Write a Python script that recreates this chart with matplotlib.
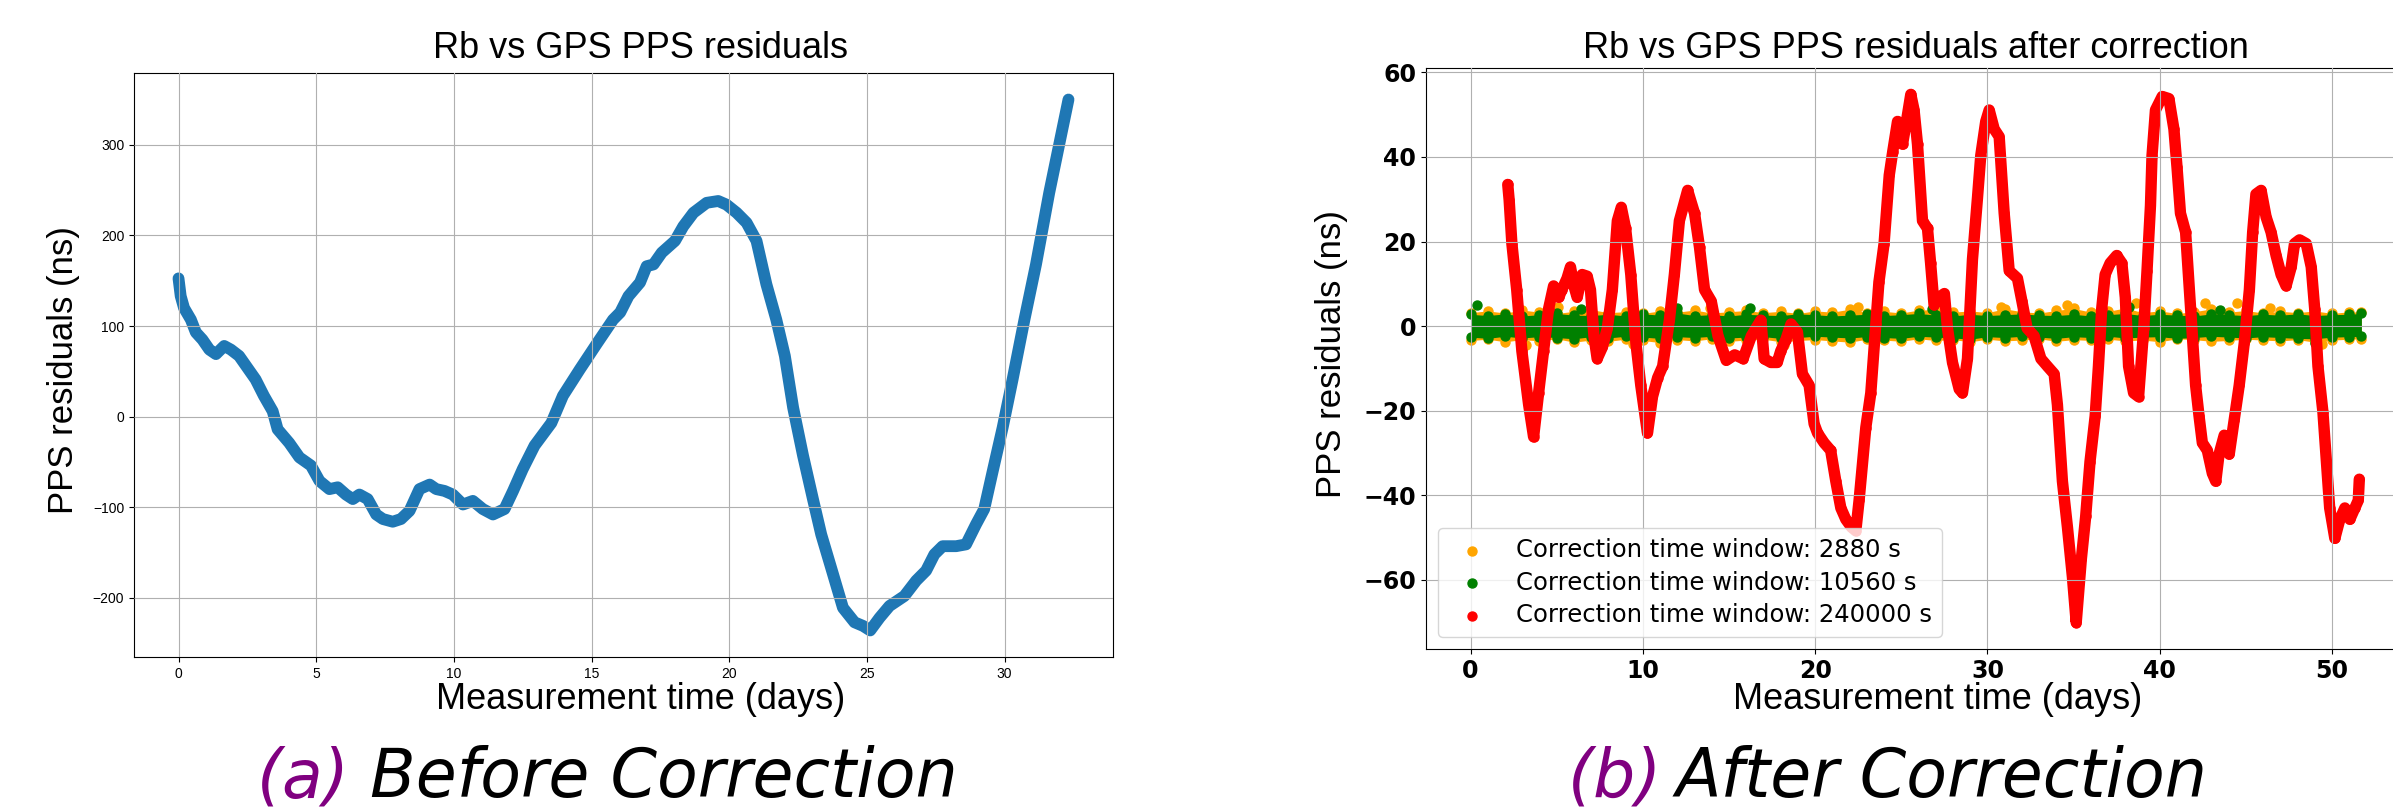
import matplotlib
matplotlib.use("Agg")
import matplotlib.pyplot as plt

# --- Données : résidus PPS Rb vs GPS avant correction ---
blue_days = [0, 0.08, 0.2, 0.45, 0.63, 0.87, 1.12, 1.36, 1.66, 1.9, 2.2, 2.5, 2.8, 3.1,
             3.42, 3.6, 4.02, 4.39, 4.81, 5.12, 5.48, 5.78, 6.08, 6.33, 6.57, 6.87, 7.18,
             7.42, 7.78, 8.08, 8.39, 8.75, 9.12, 9.36, 9.66, 9.96, 10.33, 10.69, 11.05,
             11.42, 11.84, 12.15, 12.5, 12.93, 13.54, 13.96, 14.57, 15.18, 15.78, 16.04,
             16.34, 16.76, 17.0, 17.25, 17.55, 18.03, 18.33, 18.7, 19.18, 19.6, 19.9,
             20.27, 20.63, 20.99, 21.35, 21.71, 22.02, 22.32, 22.68, 23.04, 23.34, 23.77,
             24.13, 24.55, 24.86, 25.12, 25.46, 25.82, 26.36, 26.79, 27.15, 27.45, 27.75,
             28.24, 28.6, 28.96, 29.26, 29.57, 29.93, 30.29, 30.72, 31.14, 31.62, 31.98, 32.32]
blue_vals = [152.6, 133, 120, 107, 93, 85, 74, 69, 78, 74, 67, 54, 41, 23,
             6, -14, -29, -45, -54, -71, -80, -78, -86, -91, -86, -91, -108,
             -113, -116, -113, -104, -80, -75, -80, -82, -86, -97, -93, -102,
             -108, -102, -82, -58, -32, -7, 23, 52, 80, 107, 115,
             133, 148, 166, 168, 181, 194, 210, 225, 236, 238, 234,
             225, 214, 194, 146, 107, 67, 10, -43, -91, -130, -174,
             -211, -227, -231, -236, -222, -209, -198, -181, -170, -152, -143,
             -143, -141, -119, -102, -60, -12, 41, 107, 168, 247, 300, 350]

# --- Données : après correction ---
band_days = [0, 1, 2, 3, 4, 5, 6, 7, 8, 9, 10, 11, 12, 13, 14, 15, 16, 17, 18, 19, 20,
             21, 22, 23, 24, 25, 26, 27, 28, 29, 30, 31, 32, 33, 34, 35, 36, 37, 38, 39,
             40, 41, 42, 43, 44, 45, 46, 47, 48, 49, 50, 51, 51.7]
orange_hi = [3.2, 3.6, 3.1, 3.8, 3.3, 3.0, 3.5, 3.9, 3.2, 3.4, 3.0, 3.6, 3.3, 3.8, 3.1,
             3.4, 3.7, 3.2, 3.5, 3.0, 3.6, 3.3, 4.0, 3.2, 3.5, 3.1, 3.8, 3.9, 3.3, 3.6,
             3.2, 4.1, 3.4, 3.1, 3.7, 4.2, 3.3, 3.5, 4.3, 3.2, 3.6, 3.0, 3.4, 4.1, 3.3,
             3.7, 3.1, 3.5, 3.2, 3.6, 3.0, 3.4, 3.3]
orange_lo = [-3.4, -3.1, -3.7, -3.2, -3.5, -3.0, -3.8, -3.3, -3.6, -3.1, -3.4, -3.9, -3.2,
             -3.5, -3.0, -3.6, -3.3, -3.1, -3.7, -3.4, -3.2, -3.5, -3.8, -3.1, -3.3, -3.6,
             -3.0, -3.4, -3.2, -3.7, -3.1, -3.5, -3.3, -3.0, -3.6, -3.2, -3.4, -3.1, -3.5,
             -3.3, -3.7, -3.0, -3.2, -3.6, -3.4, -3.1, -3.3, -3.5, -3.2, -3.8, -3.3, -3.1, -3.0]
green_hi = [2.8, 2.5, 2.9, 2.4, 2.7, 3.0, 2.6, 2.5, 2.8, 2.4, 2.9, 2.6, 3.1, 2.5, 2.7,
            2.4, 2.8, 2.6, 2.5, 2.9, 2.7, 2.4, 2.6, 2.8, 2.5, 2.7, 3.0, 2.6, 2.4, 2.8,
            2.5, 2.7, 2.9, 2.6, 2.5, 2.8, 2.4, 2.7, 3.0, 2.5, 2.8, 2.6, 2.4, 2.9, 2.7,
            2.5, 2.8, 2.6, 2.9, 2.5, 2.7, 2.8, 3.0]
green_lo = [-2.6, -2.9, -2.4, -2.8, -2.5, -2.7, -3.0, -2.5, -2.8, -2.4, -2.6, -2.9, -2.5,
            -2.7, -2.4, -2.8, -2.6, -2.5, -2.9, -2.7, -2.4, -2.6, -2.8, -2.5, -2.7, -2.9,
            -2.4, -2.6, -2.8, -3.1, -2.5, -2.7, -2.4, -2.6, -2.9, -2.5, -2.7, -2.4, -2.8,
            -2.6, -2.5, -2.9, -2.7, -2.4, -2.6, -2.8, -2.5, -2.7, -2.9, -3.0, -2.6, -2.5, -2.4]
orange_spike_days = [3.2, 5.1, 9.4, 13.9, 18.2, 22.5, 27.0, 30.8, 34.6, 38.6, 42.6, 44.5, 46.4, 49.4]
orange_spike_vals = [-4.5, 4.6, -4.2, 4.2, -4.4, 4.5, 4.1, 4.6, 5.1, 5.5, 5.4, 5.4, 4.4, -4.3]
green_spike_days = [0.35, 6.4, 12.0, 16.2, 26.8, 38.2, 43.5, 49.0]
green_spike_vals = [5.1, 4.0, 4.2, 4.4, 4.1, 4.5, 3.8, -4.0]

red_days = [2.16, 2.24, 2.4, 2.68, 2.98, 3.37, 3.66, 3.95, 4.24, 4.53, 4.82, 5.12, 5.3, 5.6,
            5.8, 6.0, 6.19, 6.48, 6.77, 6.96, 7.16, 7.35, 7.65, 7.94, 8.23, 8.52, 8.75, 9.0,
            9.3, 9.6, 9.88, 10.27, 10.56, 10.86, 11.15, 11.54, 11.83, 12.12, 12.6, 13.0,
            13.29, 13.58, 13.97, 14.36, 14.84, 15.33, 15.82, 16.3, 16.85, 17.04, 17.43,
            17.8, 18.0, 18.3, 18.6, 18.97, 19.26, 19.65, 19.94, 20.14, 20.52, 20.9, 21.2,
            21.49, 21.78, 22.1, 22.36, 22.55, 22.94, 23.23, 23.52, 23.7, 24.0, 24.3, 24.5,
            24.78, 25.07, 25.26, 25.55, 25.74, 25.94, 26.23, 26.52, 26.7, 26.9, 27.2, 27.5,
            27.68, 27.97, 28.36, 28.55, 28.84, 29.13, 29.42, 29.61, 29.9, 30.1, 30.39,
            30.68, 30.97, 31.26, 31.74, 32.0, 32.3, 32.7, 33.1, 33.48, 33.87, 34.06, 34.35,
            34.64, 34.93, 35.15, 35.45, 35.7, 35.95, 36.25, 36.44, 36.63, 36.83, 37.12,
            37.5, 37.8, 38.0, 38.19, 38.48, 38.77, 39.07, 39.26, 39.46, 39.55, 39.75,
            40.14, 40.53, 40.82, 41.0, 41.2, 41.5, 41.79, 42.08, 42.28, 42.47, 42.76,
            43.05, 43.25, 43.44, 43.74, 44.03, 44.32, 44.61, 44.9, 45.2, 45.39, 45.58,
            45.88, 46.17, 46.46, 46.75, 47.04, 47.33, 47.63, 47.82, 48.11, 48.5, 48.79,
            48.99, 49.18, 49.47, 49.67, 49.86, 50.16, 50.45, 50.74, 51.03, 51.32, 51.52, 51.58]
red_vals = [33.5, 29.9, 19.5, 8.6, -5.9, -18.5, -26.2, -15.8, -5.9, 4.1, 9.5, 6.8, 8.6, 11.3,
            14.0, 9.5, 6.8, 12.2, 11.8, 8.6, -2.3, -7.7, -5.0, -0.5, 8.6, 24.9, 28.1, 23.1,
            12.2, -4.1, -14.0, -25.3, -16.7, -12.2, -9.5, 1.4, 12.2, 24.9, 32.1, 26.7,
            18.6, 8.6, 5.9, -2.3, -8.1, -6.8, -7.7, -2.3, 1.4, -7.7, -8.6,
            -8.6, -5.9, -3.2, 0.5, -1.4, -11.3, -14.0, -23.1, -25.3, -27.6, -29.4, -36.7,
            -43.0, -45.7, -47.5, -48.4, -41.2, -24.0, -15.8, 0.5, 10.4, 19.5, 35.7, 41.2,
            48.4, 43.0, 47.5, 54.8, 51.1, 43.0, 24.9, 23.1, 14.9, 5.0, 6.8, 7.7,
            -0.5, -8.6, -14.9, -15.8, -7.7, 15.8, 30.3, 40.3, 48.4, 51.1, 46.6,
            44.8, 26.7, 13.1, 11.3, 5.9, -0.5, -2.3, -7.7, -9.5, -11.3, -18.6, -36.7,
            -47.5, -59.3, -70.1, -55.0, -45.0, -32.1, -21.3, -9.5, 4.1, 12.2, 14.9,
            16.7, 14.9, 6.8, -9.5, -15.8, -16.7, -0.5, 13.1, 28.5, 40.3, 51.1,
            54.3, 53.8, 46.6, 37.6, 26.7, 22.2, 4.1, -14.0, -21.3, -27.6, -29.4,
            -34.8, -36.7, -30.3, -25.8, -30.3, -22.2, -14.0, -4.1, 8.6, 22.2, 31.2,
            32.1, 25.8, 22.2, 16.7, 12.2, 9.5, 14.0, 19.5, 20.4, 19.5, 14.0,
            4.1, -9.5, -20.4, -32.1, -43.0, -50.2, -45.7, -43.0, -45.7, -43.0, -41.2, -36.2]

labels = ['Correction time window: 2880 s',
          'Correction time window: 10560 s',
          'Correction time window: 240000 s']

# --- Figure ---
fig = plt.figure(figsize=(23.93, 8.10), dpi=100)
police = 'Liberation Sans'

# (a) avant correction
ax1 = fig.add_axes([0.0560, 0.1889, 0.4091, 0.7210])
ax1.plot(blue_days, blue_vals, color='#1f77b4', lw=8.5, solid_capstyle='round',
         solid_joinstyle='round')
ax1.set_title('Rb vs GPS PPS residuals', fontsize=26, family=police, x=0.517, pad=11)
ax1.set_xlabel('Measurement time (days)', fontsize=26, family=police)
ax1.set_ylabel('PPS residuals (ns)', fontsize=25, family=police)
ax1.xaxis.set_label_coords(0.517, -0.043)
ax1.yaxis.set_label_coords(-0.055, 0.491)
for lab in ax1.get_xticklabels() + ax1.get_yticklabels():
    lab.set_fontsize(10)
    lab.set_family(police)
ax1.grid(True)
ax1.set_axisbelow(False)

# (b) après correction
ax2 = fig.add_axes([0.5959, 0.1988, 0.4095, 0.7173])
ax2.fill_between(band_days, orange_lo, orange_hi, color='orange', lw=0)
ax2.scatter(band_days, orange_hi, s=42, color='orange', label=labels[0])
ax2.scatter(band_days, orange_lo, s=42, color='orange')
ax2.scatter(orange_spike_days, orange_spike_vals, s=42, color='orange')
ax2.fill_between(band_days, green_lo, green_hi, color='green', lw=0)
ax2.scatter(band_days, green_hi, s=42, color='green', label=labels[1])
ax2.scatter(band_days, green_lo, s=42, color='green')
ax2.scatter(green_spike_days, green_spike_vals, s=42, color='green')
ax2.plot(red_days, red_vals, color='red', lw=8.2, solid_capstyle='round',
         solid_joinstyle='round')
ax2.scatter(red_days, red_vals, s=42, color='red', label=labels[2])

ax2.set_title('Rb vs GPS PPS residuals after correction', fontsize=26, family=police, pad=7)
ax2.set_xlabel('Measurement time (days)', fontsize=26, family=police)
ax2.set_ylabel('PPS residuals (ns)', fontsize=25, family=police)
ax2.xaxis.set_label_coords(0.522, -0.057)
ax2.yaxis.set_label_coords(-0.0796, 0.508)
for lab in ax2.get_xticklabels() + ax2.get_yticklabels():
    lab.set_fontsize(17)
    lab.set_fontweight('bold')
ax2.grid(True)
ax2.set_axisbelow(False)
ax2.legend(loc='lower left', fontsize=17.5, labelspacing=0.35)

# --- Légendes (a) / (b) ---
cap = dict(fontsize=48, style='italic', va='baseline', ha='left')
fig.text(0.1075, 0.016, '(a)', color='#800080', **cap)
fig.text(0.1548, 0.016, 'Before Correction', color='black', **cap)
fig.text(0.6550, 0.016, '(b)', color='#800080', **cap)
fig.text(0.7000, 0.016, 'After Correction', color='black', **cap)

plt.savefig('out.png', dpi=100)
